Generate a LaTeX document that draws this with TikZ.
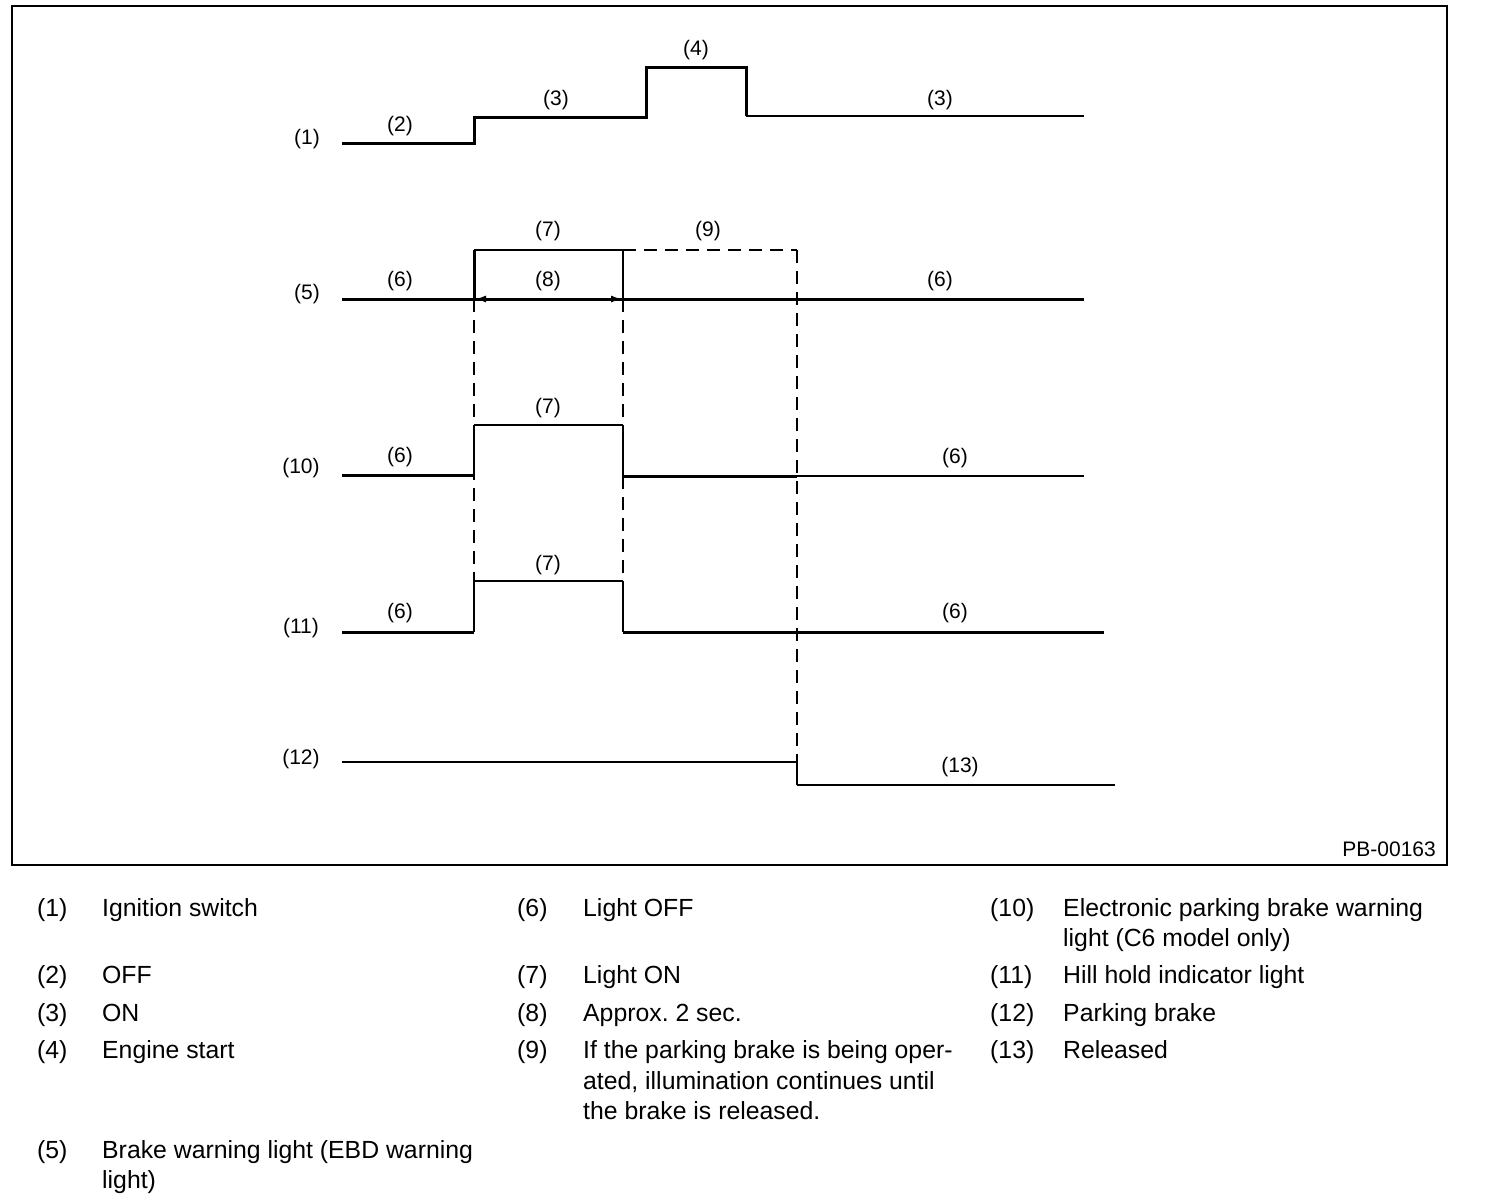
\documentclass[tikz,border=0pt]{standalone}
\usepackage{fontspec}
\setmainfont{Liberation Sans}
\usetikzlibrary{arrows.meta}
\frenchspacing
\begin{document}
\begin{tikzpicture}[x=1pt,y=-1pt,
  sigthick/.style={line width=3pt,line join=miter,line cap=butt},
  sigmid/.style={line width=2pt,line join=miter,line cap=butt},
  sigthin/.style={line width=1.4pt,line join=miter,line cap=butt},
  dashthin/.style={line width=1.6pt,dash pattern=on 13pt off 8pt},
  dashthick/.style={line width=2.8pt,dash pattern=on 13pt off 8pt},
  lbl/.style={inner sep=0pt,font=\fontsize{21}{25}\selectfont},
  leg/.style={inner sep=0pt,anchor=base west,font=\fontsize{24.8}{30}\selectfont}]
\useasboundingbox (0,0) rectangle (1504,1202);
\fill[white] (0,0) rectangle (1504,1202);
% frame
\draw[line width=1.5pt] (12,6) rectangle (1447,865);
% signal (1)
\draw[sigthick] (342,143) -- (474,143) -- (474,117) -- (646,117) -- (646,67) -- (746,67) -- (746,116);
\draw[sigthin] (746,116) -- (1084,116);
% dashed guides
\draw[dashthin] (474,299) -- (474,581);
\draw[dashthin] (623,299) -- (623,425);
\draw[dashthin] (623,476) -- (623,581);
\draw[dashthin] (623,250) -- (797,250);
\draw[dashthick] (797,250) -- (797,762);
% signal (5)
\draw[sigthick] (342,299) -- (1084,299);
\draw[sigthick] (474,299) -- (474,250);
\draw[sigthin] (474,250) -- (623,250) -- (623,299);
\draw[line width=1pt,{Latex[length=10pt,width=7pt]}-{Latex[length=10pt,width=7pt]}] (476,299) -- (621,299);
% signal (10)
\draw[sigthick] (342,475) -- (474,475);
\draw[sigmid] (474,475) -- (474,425);
\draw[sigthin] (474,425) -- (623,425);
\draw[sigthin] (623,425) -- (623,476);
\draw[sigthick] (623,476) -- (797,476);
\draw[sigthin] (797,476) -- (1084,476);
% signal (11)
\draw[sigthick] (342,632) -- (474,632);
\draw[sigmid] (474,632) -- (474,581);
\draw[sigthin] (474,581) -- (623,581);
\draw[sigmid] (623,581) -- (623,632);
\draw[sigthick] (623,632) -- (1104,632);
% signal (12)
\draw[sigthin] (342,762) -- (797,762) -- (797,785);
\draw[sigmid] (797,785) -- (1115,785);
% diagram labels
\node[lbl] (d1) at (307,139) {(1)};
\node[lbl] (d2) at (400,126) {(2)};
\node[lbl] (d3a) at (556,100) {(3)};
\node[lbl] (d4) at (696,50) {(4)};
\node[lbl] (d3b) at (940,100) {(3)};
\node[lbl] (d7a) at (548,231) {(7)};
\node[lbl] (d9) at (708,231) {(9)};
\node[lbl] (d5) at (307,294) {(5)};
\node[lbl] (d6a) at (400,281) {(6)};
\node[lbl] (d8) at (548,281) {(8)};
\node[lbl] (d6b) at (940,281) {(6)};
\node[lbl] (d7b) at (548,408) {(7)};
\node[lbl] (d10) at (301,468) {(10)};
\node[lbl] (d6c) at (400,457) {(6)};
\node[lbl] (d6d) at (955,458) {(6)};
\node[lbl] (d7c) at (548,565) {(7)};
\node[lbl] (d11) at (301,628) {(11)};
\node[lbl] (d6e) at (400,613) {(6)};
\node[lbl] (d6f) at (955,613) {(6)};
\node[lbl] (d12) at (301,759) {(12)};
\node[lbl] (d13) at (960,767) {(13)};
\node[lbl,anchor=base east] (pb) at (1436,856) {PB-00163};
% legend column 1
\node[leg] (n1) at (37,916) {(1)};  \node[leg] (t1) at (102,916) {Ignition switch};
\node[leg] (n2) at (37,983) {(2)};  \node[leg] (t2) at (102,983) {OFF};
\node[leg] (n3) at (37,1021) {(3)}; \node[leg] (t3) at (102,1021) {ON};
\node[leg] (n4) at (37,1058) {(4)}; \node[leg] (t4) at (102,1058) {Engine start};
\node[leg] (n5) at (37,1158) {(5)}; \node[leg] (t5a) at (102,1158) {Brake warning light (EBD warning};
\node[leg] (t5b) at (102,1188) {light)};
% legend column 2
\node[leg] (n6) at (517,916) {(6)};  \node[leg] (t6) at (583,916) {Light OFF};
\node[leg] (n7) at (517,983) {(7)};  \node[leg] (t7) at (583,983) {Light ON};
\node[leg] (n8) at (517,1021) {(8)}; \node[leg] (t8) at (583,1021) {Approx. 2 sec.};
\node[leg] (n9) at (517,1058) {(9)}; \node[leg] (t9a) at (583,1058) {If the parking brake is being oper-};
\node[leg] (t9b) at (583,1089) {ated, illumination continues until};
\node[leg] (t9c) at (583,1119) {the brake is released.};
% legend column 3
\node[leg] (n10) at (990,916) {(10)};  \node[leg] (t10a) at (1063,916) {Electronic parking brake warning};
\node[leg] (t10b) at (1063,946) {light (C6 model only)};
\node[leg] (n11) at (990,983) {(11)};  \node[leg] (t11) at (1063,983) {Hill hold indicator light};
\node[leg] (n12) at (990,1021) {(12)}; \node[leg] (t12) at (1063,1021) {Parking brake};
\node[leg] (n13) at (990,1058) {(13)}; \node[leg] (t13) at (1063,1058) {Released};
\end{tikzpicture}
\end{document}
